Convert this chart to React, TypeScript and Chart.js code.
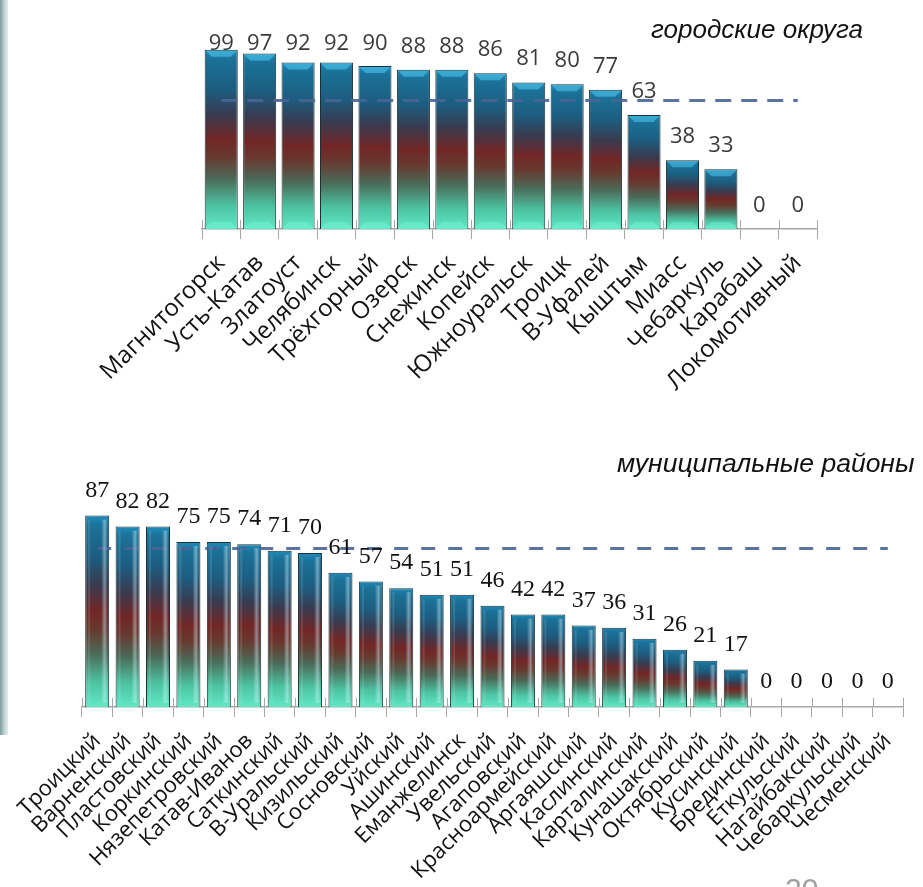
import React, { useEffect, useRef } from "react";
import { Chart, registerables } from "chart.js";

Chart.register(...registerables);

const cityLabels = [
  "Магнитогорск", "Усть-Катав", "Златоуст", "Челябинск", "Трёхгорный", "Озерск",
  "Снежинск", "Копейск", "Южноуральск", "Троицк", "В-Уфалей", "Кыштым",
  "Миасс", "Чебаркуль", "Карабаш", "Локомотивный",
];
const cityValues = [99, 97, 92, 92, 90, 88, 88, 86, 81, 80, 77, 63, 38, 33, 0, 0];
const cityAverage = 71;

const districtLabels = [
  "Троицкий", "Варненский", "Пластовский", "Коркинский", "Нязепетровский", "Катав-Иванов",
  "Саткинский", "В-Уральский", "Кизильский", "Сосновский", "Уйский", "Ашинский",
  "Еманжелинск", "Увельский", "Агаповский", "Красноармейский", "Аргаяшский", "Каслинский",
  "Карталинский", "Кунашакский", "Октябрьский", "Кусинский", "Брединский", "Еткульский",
  "Нагайбакский", "Чебаркульский", "Чесменский",
];
const districtValues = [87, 82, 82, 75, 75, 74, 71, 70, 61, 57, 54, 51, 51, 46, 42, 42, 37, 36, 31, 26, 21, 17, 0, 0, 0, 0, 0];
const districtAverage = 72;

const titleTop = "городские округа";
const titleBottom = "муниципальные районы";

const gradientStops: [number, string][] = [
  [0, "#1f8cba"],
  [0.05, "#1b7299"],
  [0.22, "#1c5d80"],
  [0.36, "#383b50"],
  [0.5, "#722626"],
  [0.6, "#673a30"],
  [0.72, "#4b6a58"],
  [0.87, "#4cc3a2"],
  [1, "#60e8c5"],
];

function barFill(ctx: any) {
  const chart = ctx.chart;
  const { chartArea, scales } = chart;
  if (!chartArea || ctx.type !== "data") return "#1c5d80";
  const v = ctx.raw as number;
  const y0 = scales.y.getPixelForValue(0);
  const y1 = scales.y.getPixelForValue(v);
  if (y0 - y1 < 1) return "rgba(0,0,0,0)";
  const g = chart.ctx.createLinearGradient(0, y1, 0, y0);
  gradientStops.forEach(([o, c]) => g.addColorStop(o, c));
  return g;
}

const decoPlugin = {
  id: "barDeco",
  beforeDatasetsDraw(chart: any) {
    const ctx = chart.ctx;
    const xs = chart.scales.x;
    const n = chart.data.labels.length;
    const axisY = chart.chartArea.bottom;
    const step = xs.getPixelForValue(1) - xs.getPixelForValue(0);
    ctx.save();
    ctx.strokeStyle = "#a6a6a6";
    ctx.lineWidth = 1;
    for (let i = 0; i <= n; i++) {
      const px = Math.round(xs.getPixelForValue(i) - step / 2) + 0.5;
      ctx.beginPath();
      ctx.moveTo(px, axisY - 9);
      ctx.lineTo(px, axisY);
      ctx.stroke();
    }
    ctx.restore();
  },
  afterDatasetsDraw(chart: any, _args: any, opts: any) {
    const ctx = chart.ctx;
    const meta = chart.getDatasetMeta(0);
    const data = chart.data.datasets[0].data as number[];
    ctx.save();
    meta.data.forEach((el: any, i: number) => {
      const { x, y, base, width } = el.getProps(["x", "y", "base", "width"], true);
      const h = base - y;
      const l = x - width / 2;
      const r = x + width / 2;
      if (h > 8) {
        if (opts.style === "bevel") {
          ctx.fillStyle = "rgba(80,200,240,0.55)";
          ctx.beginPath();
          ctx.moveTo(l + 1, y + 1);
          ctx.lineTo(r - 1, y + 1);
          ctx.lineTo(r - 7, y + 7);
          ctx.lineTo(l + 7, y + 7);
          ctx.closePath();
          ctx.fill();
          ctx.fillStyle = "rgba(120,255,220,0.35)";
          ctx.beginPath();
          ctx.moveTo(l + 1, base - 1);
          ctx.lineTo(r - 1, base - 1);
          ctx.lineTo(r - 7, base - 7);
          ctx.lineTo(l + 7, base - 7);
          ctx.closePath();
          ctx.fill();
        } else {
          const g = ctx.createLinearGradient(r - 8, 0, r - 2, 0);
          g.addColorStop(0, "rgba(255,255,255,0)");
          g.addColorStop(0.6, "rgba(200,240,255,0.45)");
          g.addColorStop(1, "rgba(255,255,255,0.05)");
          ctx.fillStyle = g;
          ctx.fillRect(r - 8, y + 4, 6, h - 8);
          ctx.fillStyle = "rgba(255,255,255,0.12)";
          ctx.fillRect(l + 3, y + 4, 2, h - 8);
        }
      }
      const txt = String(data[i]);
      ctx.font = opts.font;
      ctx.fillStyle = opts.color;
      ctx.textAlign = "center";
      ctx.textBaseline = "alphabetic";
      let ty = y - opts.offset;
      if (ty < chart.chartArea.top + opts.clamp) ty = chart.chartArea.top + opts.clamp;
      ctx.fillText(txt, x, ty);
    });
    ctx.restore();
  },
};

function makeConfig(
  labels: string[],
  values: number[],
  avg: number,
  cfg: {
    padding: any;
    xHeight: number;
    barPct: number;
    tickFont: any;
    labelFont: string;
    labelColor: string;
    offset: number;
    clamp: number;
    style: string;
    dash: number[];
    tickPad: number;
  }
): any {
  return {
    data: {
      labels,
      datasets: [
        {
          type: "bar",
          data: values,
          order: 1,
          backgroundColor: barFill,
          borderColor: "#1d3034",
          borderWidth: (c: any) => (c.raw === 0 ? 0 : 1),
          barPercentage: cfg.barPct,
          categoryPercentage: 1,
        },
        {
          type: "line",
          data: values.map(() => avg),
          order: 0,
          borderColor: "rgba(72,100,150,0.9)",
          borderWidth: 3,
          borderDash: cfg.dash,
          pointRadius: 0,
          fill: false,
        },
      ],
    },
    options: {
      animation: false,
      responsive: false,
      maintainAspectRatio: false,
      layout: { padding: cfg.padding },
      plugins: {
        legend: { display: false },
        tooltip: { enabled: false },
        title: { display: false },
        barDeco: {
          font: cfg.labelFont,
          color: cfg.labelColor,
          offset: cfg.offset,
          clamp: cfg.clamp,
          style: cfg.style,
        },
      },
      scales: {
        x: {
          offset: true,
          grid: {
            display: true,
            offset: true,
            drawOnChartArea: false,
            drawTicks: true,
            tickLength: 10,
            color: "#a6a6a6",
            lineWidth: 1,
          },
          border: { display: true, color: "#a6a6a6", width: 1.5 },
          ticks: {
            autoSkip: false,
            minRotation: 45,
            maxRotation: 45,
            padding: cfg.tickPad,
            color: "#111",
            font: cfg.tickFont,
          },
          afterFit: (scale: any) => {
            scale.height = cfg.xHeight;
          },
        },
        y: {
          display: false,
          min: 0,
          max: 100,
        },
      },
    },
    plugins: [decoPlugin],
  };
}

function ChartCanvas({ config, width, height, top }: any) {
  const ref = useRef<HTMLCanvasElement | null>(null);
  useEffect(() => {
    if (!ref.current) return;
    const chart = new Chart(ref.current, config);
    return () => chart.destroy();
  }, []);
  return (
    <canvas
      ref={ref}
      width={width}
      height={height}
      style={{ position: "absolute", left: 0, top, width, height }}
    />
  );
}

export default function App() {
  const topConfig = makeConfig(cityLabels, cityValues, cityAverage, {
    padding: { left: 202, right: 106, top: 48, bottom: 0 },
    xHeight: 430 - 229,
    barPct: 0.86,
    tickFont: { family: "'Open Sans', sans-serif", size: 24 },
    labelFont: "22px 'Open Sans', sans-serif",
    labelColor: "#3a3a3a",
    offset: 17,
    clamp: 2,
    style: "bevel",
    dash: [16, 10],
    tickPad: 10,
  });
  const bottomConfig = makeConfig(districtLabels, districtValues, districtAverage, {
    padding: { left: 82, right: 20, top: 67, bottom: 0 },
    xHeight: 467 - 287,
    barPct: 0.79,
    tickFont: { family: "'Open Sans', sans-serif", size: 22 },
    labelFont: "24px 'Liberation Serif', serif",
    labelColor: "#111",
    offset: 19,
    clamp: 0,
    style: "glass",
    dash: [14, 13],
    tickPad: 11,
  });
  return (
    <div
      style={{
        position: "fixed",
        left: 0,
        top: 0,
        width: 923,
        height: 887,
        background: "#fff",
        overflow: "hidden",
      }}
    >
      <div
        style={{
          position: "absolute",
          left: 0,
          top: 0,
          width: 8,
          height: 735,
          background: "linear-gradient(to right, #7d9a9e, #c5d8d8 60%, #e4eeee)",
        }}
      />
      <ChartCanvas config={topConfig} width={923} height={430} top={0} />
      <ChartCanvas config={bottomConfig} width={923} height={467} top={420} />
      <div
        style={{
          position: "absolute",
          left: 651,
          top: 14,
          fontFamily: "'Liberation Sans', Arial, sans-serif",
          fontStyle: "italic",
          fontSize: 26,
          color: "#111",
          whiteSpace: "nowrap",
        }}
      >
        {titleTop}
      </div>
      <div
        style={{
          position: "absolute",
          left: 617,
          top: 448,
          fontFamily: "'Liberation Sans', Arial, sans-serif",
          fontStyle: "italic",
          fontSize: 26.5,
          color: "#111",
          whiteSpace: "nowrap",
        }}
      >
        {titleBottom}
      </div>
      <div
        style={{
          position: "absolute",
          left: 785,
          top: 872,
          fontFamily: "'Liberation Sans', Arial, sans-serif",
          fontSize: 30,
          color: "#a0a0a0",
        }}
      >
        20
      </div>
    </div>
  );
}
